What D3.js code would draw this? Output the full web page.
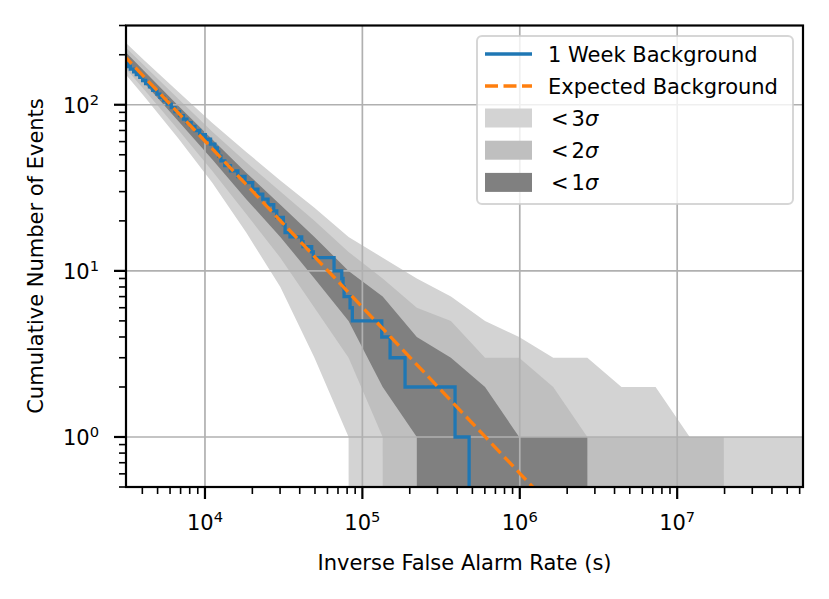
<!doctype html>
<html>
<head>
<meta charset="utf-8">
<script src="https://d3js.org/d3.v7.min.js"></script>
<style>
  body { margin: 0; background: #fff; }
  text { font-family: "DejaVu Sans", sans-serif; fill: #000; }
</style>
</head>
<body>
<svg width="829" height="599"></svg>
<script>
// IFAR grid the sigma bands were evaluated on (s)
var bandIfar = [2485, 4092, 6740, 11100, 18290, 30120, 49610, 81730, 134600, 221700,
                365200, 601500, 990600, 1631000, 2687000, 4428000, 7293000, 12010000,
                19780000, 32580000, 53660000, 88400000];
// band edges (cumulative counts)
var lower3 = [198, 113, 63, 34, 17, 8, 3, 1, 0, 0, 0, 0, 0, 0, 0, 0, 0, 0, 0, 0, 0, 0];
var lower2 = [213, 124, 71, 40, 22, 12, 6, 3, 1, 0, 0, 0, 0, 0, 0, 0, 0, 0, 0, 0, 0, 0];
var lower1 = [228, 136, 80, 47, 27, 16, 9, 5, 2, 1, 0, 0, 0, 0, 0, 0, 0, 0, 0, 0, 0, 0];
var upper1 = [259, 160, 99, 62, 39, 25, 16, 10, 7, 4, 3, 2, 1, 1, 1, 0, 0, 0, 0, 0, 0, 0];
var upper2 = [275, 173, 109, 69, 45, 30, 20, 13, 9, 6, 5, 3, 3, 2, 1, 1, 1, 1, 1, 0, 0, 0];
var upper3 = [292, 186, 120, 78, 52, 35, 24, 16, 12, 9, 7, 5, 4, 3, 3, 2, 2, 1, 1, 1, 1, 1];

// 1 week background: count holds from this IFAR up to the next one
var weekIfar = [3000, 3237, 3356, 3522, 3661, 3853, 4018, 4197, 4441, 4660, 4953, 5176,
                5477, 5749, 6111, 6447, 6892, 7302, 7677, 8173, 8640, 9255, 10050, 10850,
                11550, 11980, 12220, 12620, 13360, 14520, 16180, 17970, 20100, 21690, 23300,
                25160, 27350, 28580, 31500, 32280, 34700, 41180, 41960, 47650, 48780, 66070,
                73960, 75390, 76510, 83530, 86310, 132800, 150000, 186700, 388000, 476600];
var weekCount = [178, 170, 164, 158, 152, 146, 140, 134, 128, 122, 116, 111,
                 106, 101, 96, 91, 86, 82, 78, 74, 70, 66, 62, 58,
                 55, 52, 49, 46, 43, 40, 37, 34, 31, 29, 27,
                 25, 23, 21, 19, 17, 16, 15, 14, 13, 12, 10,
                 9, 8, 7, 6, 5, 4, 3, 2, 1, 0];

// expected background
var expIfar = [3000, 10000, 100000, 1000000, 1300000];
var expCount = [201.6, 60.48, 6.048, 0.6048, 0.4652];

var xTicks = [1e4, 1e5, 1e6, 1e7];
var xTickExp = ["4", "5", "6", "7"];
var yTicks = [1, 10, 100];
var yTickExp = ["0", "1", "2"];

var legendLabels = ["1 Week Background", "Expected Background"];
var bandLabels = ["3", "2", "1"];
var bandColors = ["#d3d3d3", "#bfbfbf", "#808080"];

var svg = d3.select("svg");
var axL = 126, axR = 803, axT = 25.5, axB = 487;

var x = d3.scaleLog().domain([3150, 6.3e7]).range([axL, axR]);
var y = d3.scaleLog().domain([0.5, 300]).range([axB, axT]);

// zero counts end up far below the axes, like matplotlib's log clipping
function yv(v) { return y(v > 0 ? v : 1e-300); }

svg.append("clipPath").attr("id", "clip")
  .append("rect")
  .attr("x", axL).attr("y", axT)
  .attr("width", axR - axL).attr("height", axB - axT);

var plot = svg.append("g").attr("clip-path", "url(#clip)");

// bands, widest first
var bandSets = [[lower3, upper3], [lower2, upper2], [lower1, upper1]];
var area = d3.area()
  .x(function(d) { return x(d.f); })
  .y0(function(d) { return yv(d.lo); })
  .y1(function(d) { return yv(d.hi); });

bandSets.forEach(function(b, j) {
  var rows = bandIfar.map(function(f, i) { return {f: f, lo: b[0][i], hi: b[1][i]}; });
  plot.append("path")
    .attr("d", area(rows))
    .attr("fill", bandColors[j]);
});

// grid
plot.selectAll(".gx").data(xTicks).enter().append("line")
  .attr("x1", function(d) { return x(d); }).attr("x2", function(d) { return x(d); })
  .attr("y1", axT).attr("y2", axB)
  .attr("stroke", "#b0b0b0").attr("stroke-width", 1.7);
plot.selectAll(".gy").data(yTicks).enter().append("line")
  .attr("y1", function(d) { return y(d); }).attr("y2", function(d) { return y(d); })
  .attr("x1", axL).attr("x2", axR)
  .attr("stroke", "#b0b0b0").attr("stroke-width", 1.7);

// 1 week background
var week = weekIfar.map(function(f, i) { return [f, weekCount[i]]; });
plot.append("path")
  .attr("d", d3.line().curve(d3.curveStepAfter)
    .x(function(d) { return x(d[0]); })
    .y(function(d) { return yv(d[1]); })(week))
  .attr("fill", "none")
  .attr("stroke", "#1f77b4")
  .attr("stroke-width", 3.3);

// expected
var expd = expIfar.map(function(f, i) { return [f, expCount[i]]; });
plot.append("path")
  .attr("d", d3.line()
    .x(function(d) { return x(d[0]); })
    .y(function(d) { return y(d[1]); })(expd))
  .attr("fill", "none")
  .attr("stroke", "#ff7f0e")
  .attr("stroke-width", 3.3)
  .attr("stroke-dasharray", "13,5.5");

// ticks
var xMinor = [], yMinor = [];
for (var e = 3; e <= 7; e++) {
  for (var m = 2; m <= 9; m++) {
    var v = m * Math.pow(10, e);
    if (v >= 3150 && v <= 6.3e7) xMinor.push(v);
  }
}
for (var e2 = -1; e2 <= 2; e2++) {
  for (var m2 = 2; m2 <= 9; m2++) {
    var w = m2 * Math.pow(10, e2);
    if (w >= 0.5 && w <= 300) yMinor.push(w);
  }
}

var axes = svg.append("g");
axes.selectAll(".xmin").data(xMinor).enter().append("line")
  .attr("x1", function(d) { return x(d); }).attr("x2", function(d) { return x(d); })
  .attr("y1", axB).attr("y2", axB + 7)
  .attr("stroke", "#000").attr("stroke-width", 1.6);
axes.selectAll(".xmaj").data(xTicks).enter().append("line")
  .attr("x1", function(d) { return x(d); }).attr("x2", function(d) { return x(d); })
  .attr("y1", axB).attr("y2", axB + 12)
  .attr("stroke", "#000").attr("stroke-width", 2.2);
axes.selectAll(".ymin").data(yMinor).enter().append("line")
  .attr("y1", function(d) { return y(d); }).attr("y2", function(d) { return y(d); })
  .attr("x1", axL).attr("x2", axL - 7)
  .attr("stroke", "#000").attr("stroke-width", 1.6);
axes.selectAll(".ymaj").data(yTicks).enter().append("line")
  .attr("y1", function(d) { return y(d); }).attr("y2", function(d) { return y(d); })
  .attr("x1", axL).attr("x2", axL - 12)
  .attr("stroke", "#000").attr("stroke-width", 2.2);

// tick labels as 10^n
xTicks.forEach(function(t, i) {
  var tx = axes.append("text")
    .attr("x", x(t)).attr("y", 530)
    .attr("text-anchor", "middle")
    .style("font-size", "21px");
  tx.append("tspan").text("10");
  tx.append("tspan").attr("dy", -8).style("font-size", "14.7px").text(xTickExp[i]);
});
yTicks.forEach(function(t, i) {
  var ty = axes.append("text")
    .attr("x", 99).attr("y", y(t) + 8)
    .attr("text-anchor", "end")
    .style("font-size", "21px");
  ty.append("tspan").text("10");
  ty.append("tspan").attr("dy", -8).style("font-size", "14.7px").text(yTickExp[i]);
});

// spines
svg.append("rect")
  .attr("x", axL).attr("y", axT)
  .attr("width", axR - axL).attr("height", axB - axT)
  .attr("fill", "none").attr("stroke", "#000").attr("stroke-width", 2.2);

// axis labels
svg.append("text")
  .attr("x", (axL + axR) / 2).attr("y", 570)
  .attr("text-anchor", "middle")
  .style("font-size", "21px")
  .text("Inverse False Alarm Rate (s)");
svg.append("text")
  .attr("transform", "translate(43,256) rotate(-90)")
  .attr("text-anchor", "middle")
  .style("font-size", "21px")
  .text("Cumulative Number of Events");

// legend
var lg = svg.append("g");
lg.append("rect")
  .attr("x", 477).attr("y", 36).attr("width", 316).attr("height", 168).attr("rx", 5)
  .attr("fill", "#fff").attr("fill-opacity", 0.8)
  .attr("stroke", "#cccccc").attr("stroke-opacity", 0.8).attr("stroke-width", 2);

lg.append("line")
  .attr("x1", 485).attr("x2", 532).attr("y1", 54).attr("y2", 54)
  .attr("stroke", "#1f77b4").attr("stroke-width", 3.3);
lg.append("line")
  .attr("x1", 485).attr("x2", 532).attr("y1", 86).attr("y2", 86)
  .attr("stroke", "#ff7f0e").attr("stroke-width", 3.3)
  .attr("stroke-dasharray", "13,5.5");
legendLabels.forEach(function(s, i) {
  lg.append("text")
    .attr("x", 548).attr("y", 62 + i * 31.7)
    .style("font-size", "21px")
    .text(s);
});
bandLabels.forEach(function(s, i) {
  var cy = 118 + i * 32.2;
  lg.append("rect")
    .attr("x", 485).attr("y", cy - 9.5).attr("width", 47).attr("height", 19)
    .attr("fill", bandColors[i]);
  var t = lg.append("text")
    .attr("x", 551).attr("y", cy + 7.5)
    .style("font-size", "21px");
  t.append("tspan").text("<");
  t.append("tspan").attr("dx", 3).text(s);
  t.append("tspan").style("font-style", "italic").text("\u03c3");
});
</script>
</body>
</html>
